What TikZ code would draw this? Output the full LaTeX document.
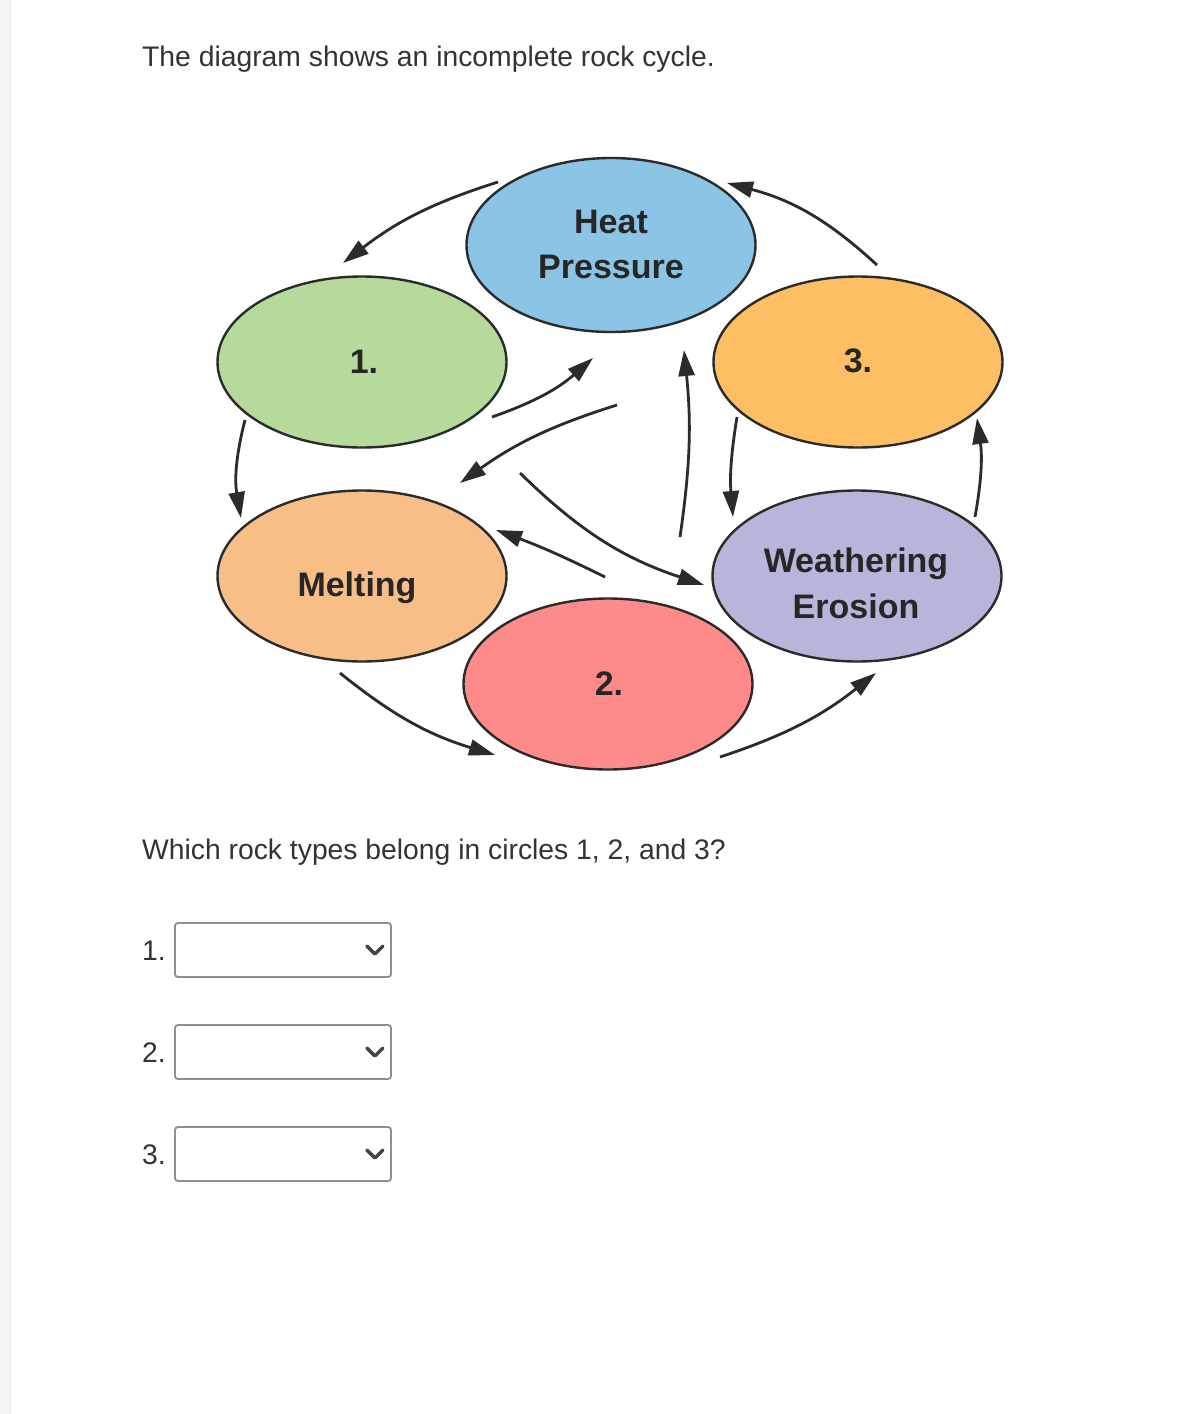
\documentclass[tikz,border=0pt]{standalone}
\usepackage{fontspec}
\setmainfont{Liberation Sans}
\usetikzlibrary{arrows.meta,shapes.geometric,calc}
\definecolor{cheat}{HTML}{8CC4E6}
\definecolor{cone}{HTML}{B5DA9C}
\definecolor{cthree}{HTML}{FEBE64}
\definecolor{cmelt}{HTML}{F8BE88}
\definecolor{cweath}{HTML}{B8B5DA}
\definecolor{ctwo}{HTML}{FE8A8A}
\definecolor{ctext}{HTML}{333333}
\definecolor{cline}{HTML}{2B2B2B}
\definecolor{clabel}{HTML}{262626}
\definecolor{cstrip}{HTML}{F5F4F2}
\definecolor{cstripline}{HTML}{E6E5E3}
\definecolor{cbox}{HTML}{8E8E8E}
\definecolor{cchev}{HTML}{444444}
\begin{document}
\begin{tikzpicture}[x=1pt,y=-1pt,
  rock/.style={ellipse, draw=cline, line width=2.4pt, minimum width=289pt, minimum height=171pt, inner sep=0pt},
  rocklabel/.style={anchor=base, inner sep=0pt, font=\fontsize{34}{45}\selectfont\bfseries, text=clabel},
  cyc/.style={-{Triangle[length=26pt,width=16pt]}, line width=2.8pt, draw=cline},
  qtext/.style={anchor=base west, inner sep=0pt, font=\fontsize{28.3}{34}\selectfont, text=ctext},
  dropbox/.style={draw=cbox, line width=1.8pt, rounded corners=3pt, minimum width=216pt, minimum height=54pt, inner sep=0pt},
  chev/.style={draw=cchev, line width=3.4pt, line cap=round, line join=round}]
\useasboundingbox (0,0) rectangle (1182,1414);
\fill[white] (0,0) rectangle (1182,1414);
\fill[cstrip] (0,0) rectangle (10,1414);
\draw[cstripline, line width=1pt] (10.5,0) -- (10.5,1414);

\node[qtext] (title) at (142,66) {The diagram shows an incomplete rock cycle.};

% rock cycle ellipses
\node[rock, fill=cheat, minimum height=174pt] (heat) at (611,245) {};
\node[rock, fill=cone] (one) at (362,362) {};
\node[rock, fill=cthree] (three) at (858,362) {};
\node[rock, fill=cmelt] (melt) at (362,576) {};
\node[rock, fill=cweath] (weath) at (857,576) {};
\node[rock, fill=ctwo] (two) at (608,684) {};

% labels inside the ellipses
\node[rocklabel] (heatA) at (611,233) {Heat};
\node[rocklabel] (heatB) at (611,278) {Pressure};
\node[rocklabel] (oneL) at (364,373) {1.};
\node[rocklabel] (threeL) at (858,372) {3.};
\node[rocklabel] (meltL) at (357,596) {Melting};
\node[rocklabel] (weathA) at (856,572) {Weathering};
\node[rocklabel] (weathB) at (856,618) {Erosion};
\node[rocklabel] (twoL) at (609,695) {2.};

% arrow end points
\coordinate (a1s) at (498,182);  \coordinate (a1e) at (343,263);
\coordinate (a2s) at (877,265);  \coordinate (a2e) at (727,183);
\coordinate (a3s) at (245,420);  \coordinate (a3e) at (241,518);
\coordinate (a4s) at (975,517);  \coordinate (a4e) at (977,418);
\coordinate (a5s) at (340,673);  \coordinate (a5e) at (495,755);
\coordinate (a6s) at (720,757);  \coordinate (a6e) at (876,673);
\coordinate (a7s) at (492,417);  \coordinate (a7e) at (593,358);
\coordinate (a8s) at (617,405);  \coordinate (a8e) at (460,483);
\coordinate (a9s) at (520,473);  \coordinate (a9e) at (704,585);
\coordinate (a10s) at (605,577); \coordinate (a10e) at (496,530);
\coordinate (a11s) at (680,537); \coordinate (a11e) at (684,350);
\coordinate (a12s) at (737,417); \coordinate (a12e) at (733,517);

\draw[cyc] (a1s) to[bend right=10] (a1e);
\draw[cyc] (a2s) to[bend right=14] (a2e);
\draw[cyc] (a3s) to[bend right=12] (a3e);
\draw[cyc] (a4s) to[bend right=9] (a4e);
\draw[cyc] (a5s) to[bend right=11] (a5e);
\draw[cyc] (a6s) to[bend right=10] (a6e);
\draw[cyc] (a7s) to[bend right=11] (a7e);
\draw[cyc] (a8s) to[bend right=9] (a8e);
\draw[cyc] (a9s) to[bend right=13] (a9e);
\draw[cyc] (a10s) to[bend right=3] (a10e);
\draw[cyc] (a11s) to[bend right=7] (a11e);
\draw[cyc] (a12s) to[bend right=7] (a12e);

\node[qtext] (question) at (142,859) {Which rock types belong in circles 1, 2, and 3?};

% answer boxes
\node[qtext] (l1) at (142,960) {1.};
\node[qtext] (l2) at (142,1062) {2.};
\node[qtext] (l3) at (142,1164) {3.};
\node[dropbox] (d1) at (283,950) {};
\node[dropbox] (d2) at (283,1052) {};
\node[dropbox] (d3) at (283,1154) {};
\foreach \d in {d1,d2,d3}{
  \draw[chev] ($(\d.east)+(-25,-4)$) -- ($(\d.east)+(-17,4)$) -- ($(\d.east)+(-9,-4)$);
}
\end{tikzpicture}
\end{document}
